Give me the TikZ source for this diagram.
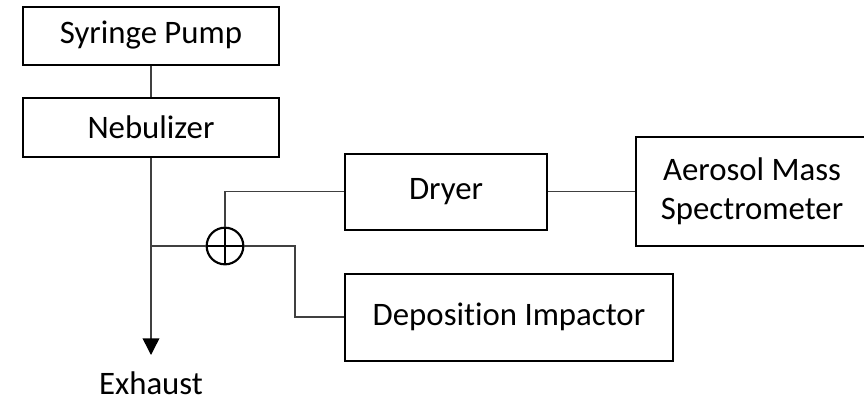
\documentclass[tikz,border=0pt]{standalone}
\usepackage{fontspec}
\setmainfont{Carlito}[Ligatures={NoCommon}]
\usetikzlibrary{arrows.meta}
\begin{document}
\begin{tikzpicture}[x=0.75pt,y=-0.75pt,
  box/.style={draw=black,line width=1.5pt,inner sep=0pt,align=center,font=\fontsize{24.6}{29.5}\selectfont},
  conn/.style={draw=black!75,line width=1.1pt},
  lbl/.style={inner sep=0pt,font=\fontsize{24.6}{29.5}\selectfont},
  mixer/.style={circle,draw=black,line width=1.6pt,minimum size=27.5pt,inner sep=0pt}]
\useasboundingbox (0,0) rectangle (864,401);
\clip (0,0) rectangle (864,401);
\node[box,minimum width=192pt,minimum height=43.5pt] (sp) at (151,35.5) {Syringe Pump};
\node[box,minimum width=192pt,minimum height=44.25pt] (neb) at (151,127.5) {Nebulizer};
\node[box,minimum width=151.5pt,minimum height=57pt] (dry) at (446,191.5) {Dryer};
\node[box,minimum width=174pt,minimum height=81.75pt] (ams) at (752,191.5) {Aerosol Mass\\Spectrometer};
\node[box,minimum width=246pt,minimum height=65.25pt] (dep) at (509,317) {Deposition Impactor};
\node[mixer] (mx) at (225,246) {};
\draw[black,line width=1.6pt] (mx.north) -- (mx.south) (mx.west) -- (mx.east);
\node[lbl] (ex) at (151,383) {Exhaust};
\coordinate (tip) at (151,355);
\coordinate (jn) at (151,246);
\draw[conn] (sp) -- (neb);
\draw[conn,-{Triangle[length=12.5pt,width=12.5pt,color=black]}] (neb) -- (tip);
\draw[conn] (jn) -- (mx.west);
\draw[conn] (mx.north) |- (dry.west);
\draw[conn] (mx.east) -- (295,246) |- (dep.west);
\draw[conn] (dry) -- (ams);
\end{tikzpicture}
\end{document}
